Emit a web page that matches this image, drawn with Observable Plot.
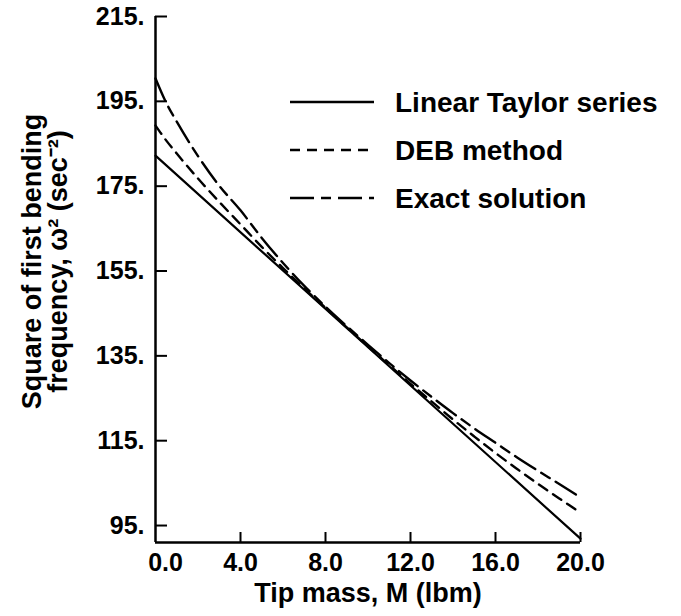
<!DOCTYPE html>
<html>
<head>
<meta charset="utf-8">
<script src="https://cdn.jsdelivr.net/npm/d3@7"></script>
<script src="https://cdn.jsdelivr.net/npm/@observablehq/plot@0.6"></script>
<style>
  body { margin: 0; background: #fff; }
  #wrap { position: relative; width: 681px; height: 616px; }
  #legend { position: absolute; left: 0; top: 0; pointer-events: none; }
</style>
</head>
<body>
<div id="wrap"></div>
<script>
// ---- data ----
const taylorMass = [0, 20];
const taylorOmega2 = [182.2, 91.9];

const curveMass = [0, 0.5, 1, 2, 3, 4, 5, 6, 7, 8, 9, 10, 11, 12, 13, 14, 15, 16, 17, 18, 19, 20];
const debOmega2 = [189.3, 185.8, 182.7, 176.8, 171.3, 166.0, 160.7, 155.7, 150.9, 146.3, 141.7,
                   137.2, 132.8, 128.4, 124.2, 120.0, 116.0, 112.1, 108.4, 104.8, 101.4, 98.0];
const exactOmega2 = [200.4, 194.7, 190.2, 182.1, 175.1, 169.3, 162.8, 156.9, 151.5, 146.6, 142.0,
                     137.6, 133.3, 129.2, 125.3, 121.5, 117.9, 114.5, 111.1, 107.9, 104.8, 101.6];

const seriesNames = ["Linear Taylor series", "DEB method", "Exact solution"];
const seriesDash = ["none", "10,7", "24,7,10,7"];

const xTickValues = [0, 4, 8, 12, 16, 20];
const yTickValues = [95, 115, 135, 155, 175, 195, 215];
const xDomain = [0, 20];
const yDomain = [91, 215];

const xTitle = "Tip mass, M (lbm)";
const yTitle = "Square of first bending\nfrequency, \u03c9\u00b2 (sec\u207b\u00b2)";

// ---- build tables ----
const taylor = taylorMass.map((m, i) => ({m, w: taylorOmega2[i]}));
const deb = curveMass.map((m, i) => ({m, w: debOmega2[i]}));
const exact = curveMass.map((m, i) => ({m, w: exactOmega2[i]}));

const FONT = "'Liberation Sans', Arial, Helvetica, sans-serif";
const fmtX = d3.format(".1f");
const innerTicks = xTickValues.slice(1, -1);
const firstTick = xTickValues.slice(0, 1);
const lastTick = xTickValues.slice(-1);

const chart = Plot.plot({
  width: 681,
  height: 616,
  marginLeft: 155,
  marginRight: 101,
  marginTop: 16,
  marginBottom: 74,
  x: {domain: xDomain},
  y: {domain: yDomain},
  style: {fontFamily: FONT, fontSize: "25px", fontWeight: "bold", color: "#000", background: "#fff"},
  marks: [
    Plot.ruleX([xDomain[0]], {stroke: "#000", strokeWidth: 2.5}),
    Plot.ruleY([yDomain[0]], {stroke: "#000", strokeWidth: 2.5}),
    Plot.axisX(innerTicks, {tickSize: -10, tickPadding: 21, tickFormat: fmtX, strokeWidth: 2, label: null}),
    Plot.axisX(firstTick, {tickSize: 0, tickPadding: 11, tickFormat: fmtX, dx: 10, label: null}),
    Plot.axisX(lastTick, {tickSize: -10, tickPadding: 21, tickFormat: fmtX, strokeWidth: 2, label: null}),
    Plot.axisY(yTickValues, {tickSize: -12, tickPadding: 23, tickFormat: d => d + ".", strokeWidth: 2, label: null}),
    Plot.line(taylor, {x: "m", y: "w", stroke: "#000", strokeWidth: 2.2}),
    Plot.line(deb, {x: "m", y: "w", stroke: "#000", strokeWidth: 2.4, strokeDasharray: seriesDash[1], curve: "monotone-x"}),
    Plot.line(exact, {x: "m", y: "w", stroke: "#000", strokeWidth: 2.4, strokeDasharray: seriesDash[2], curve: "monotone-x"}),
    Plot.text([xTitle], {text: d => d, frameAnchor: "bottom", textAnchor: "middle", lineAnchor: "middle", dy: 51, fontSize: 27, fontWeight: "bold", fill: "#000"}),
    Plot.text([yTitle], {text: d => d, frameAnchor: "left", textAnchor: "middle", lineAnchor: "middle", dx: -110, dy: -18, rotate: -90, lineHeight: 0.95, fontSize: 27, fontWeight: "bold", fill: "#000"})
  ]
});

const wrap = document.getElementById("wrap");
wrap.appendChild(chart);

// ---- legend overlay ----
const legend = d3.select(wrap).append("svg")
  .attr("id", "legend")
  .attr("width", 681).attr("height", 616);
const rowY = [102, 150, 198];
seriesNames.forEach((name, i) => {
  legend.append("line")
    .attr("x1", 290).attr("x2", 374).attr("y1", rowY[i]).attr("y2", rowY[i])
    .attr("stroke", "#000").attr("stroke-width", 2.6)
    .attr("stroke-dasharray", seriesDash[i]);
  legend.append("text")
    .attr("x", 395).attr("y", rowY[i]).attr("dy", "0.35em")
    .attr("font-family", FONT).attr("font-weight", "bold").attr("font-size", 28)
    .attr("fill", "#000")
    .text(name);
});
</script>
</body>
</html>
